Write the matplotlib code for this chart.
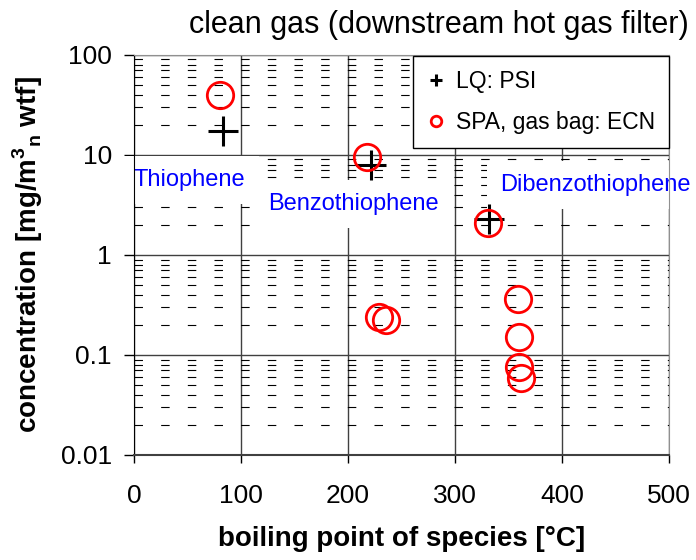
import numpy as np
import matplotlib
matplotlib.use("Agg")
import matplotlib.pyplot as plt
from matplotlib.ticker import LogLocator, FuncFormatter, NullFormatter

plt.rcParams['font.family'] = ['Liberation Sans', 'DejaVu Sans']
plt.rcParams['mathtext.fontset'] = 'custom'
plt.rcParams['mathtext.rm'] = 'Liberation Sans'
plt.rcParams['mathtext.bf'] = 'Liberation Sans:bold'
plt.rcParams['lines.scale_dashes'] = False

# data
psi_bp = [83, 221, 332]
psi_conc = [17.5, 7.9, 2.3]
ecn_bp = [80, 218, 331, 229, 235, 359, 360, 360, 362]
ecn_conc = [40, 9.5, 2.1, 0.242, 0.226, 0.36, 0.152, 0.076, 0.059]

species = ["Thiophene", "Benzothiophene", "Dibenzothiophene"]
species_pos = [(0, 5.6), (125, 3.2), (342, 5.0)]

x_ticks = [0, 100, 200, 300, 400, 500]
y_ticks = [0.01, 0.1, 1, 10, 100]

fig = plt.figure(figsize=(6.96, 5.6), dpi=100)
ax = fig.add_axes([0.1925, 0.1875, 0.769, 0.7145])

ax.set_yscale('log')
ax.set_xlim(0, 500)
ax.set_ylim(0.01, 100)
ax.set_xticks(x_ticks)
ax.set_yticks(y_ticks)
ax.yaxis.set_major_formatter(FuncFormatter(lambda v, p: '{:g}'.format(v)))
ax.yaxis.set_minor_locator(LogLocator(base=10, subs=np.arange(2, 10)))
ax.yaxis.set_minor_formatter(NullFormatter())

ax.grid(True, which='major', axis='both', color='#404040', lw=1.0, zorder=0)
ax.grid(True, which='minor', axis='y', color='black', lw=0.8,
        linestyle=(0, (6.1, 13.1)), zorder=0)
ax.set_axisbelow(True)

ax.tick_params(axis='both', which='major', direction='out', width=1,
               labelsize=19, colors='black')
ax.tick_params(axis='x', length=6, pad=15)
ax.tick_params(axis='y', length=7, pad=9)
ax.tick_params(axis='y', which='minor', length=0)
for side in ['top', 'right']:
    ax.spines[side].set_color('#909090')
ax.spines['left'].set_color('black')
ax.spines['bottom'].set_color('#404040')
ax.spines['bottom'].set_linewidth(1.5)

for name, (sx, sy) in zip(species, species_pos):
    ax.text(sx, sy, name, color='#0000ff', fontsize=17, va='center', ha='left',
            zorder=2, bbox=dict(boxstyle='square,pad=0.55', fc='white', ec='none'))

ax.plot(psi_bp, psi_conc, ls='none', marker='+', ms=22, mew=2.2,
        color='black', label='LQ: PSI', zorder=4)
ax.plot(ecn_bp, ecn_conc, ls='none', marker='o', ms=19, mew=2,
        mfc='none', mec='#ff0000', label='SPA, gas bag: ECN', zorder=4)

leg = ax.legend(loc='upper right', bbox_to_anchor=(1.0, 0.997), fontsize=16.5,
                markerscale=0.4, handlelength=0.8, handletextpad=0.5,
                borderaxespad=0, fancybox=False, framealpha=1,
                edgecolor='black', borderpad=0.6, labelspacing=0.8)
leg.get_frame().set_linewidth(1)
leg.set_zorder(5)

ax.set_xlabel('boiling point of species [°C]', fontsize=20, fontweight='bold', labelpad=13)
ax.set_ylabel(r'concentration [mg/m$^\mathbf{3}$$_\mathbf{n}$ wtf]', fontsize=20,
              fontweight='bold', labelpad=11)
fig.text(0.63, 0.955, 'clean gas (downstream hot gas filter)', fontsize=22,
         ha='center', va='center')

fig.savefig('out.png', dpi=100)
